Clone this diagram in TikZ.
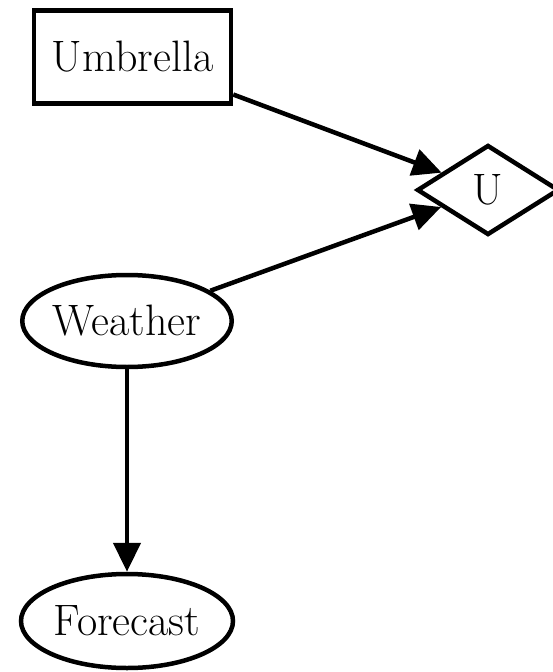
\documentclass[tikz,border=0pt]{standalone}
\usepackage{fontspec}
\usetikzlibrary{shapes.geometric,arrows.meta}
\tikzset{
  base/.style={draw=black, line width=4.5pt, inner sep=0pt, font=\fontsize{44}{52}\selectfont},
  boxnode/.style={base, rectangle, minimum width=197pt, minimum height=93pt},
  ovalnode/.style={base, ellipse},
  diamondnode/.style={base, diamond, aspect=1.5},
  edge/.style={line width=4.5pt, -{Triangle[length=29pt,width=27pt]}}
}
\begin{document}
\begin{tikzpicture}[x=1pt,y=-1pt]
\useasboundingbox (0,0) rectangle (552,672);
\node[boxnode] (um) at (132.5,57) {Umbrella};
\node[diamondnode, minimum width=142pt, minimum height=90pt] (u) at (488,190) {U};
\node[ovalnode, minimum width=208pt, minimum height=92pt] (we) at (127,321) {Weather};
\node[ovalnode, minimum width=212pt, minimum height=94pt] (fo) at (127,621) {Forecast};
\draw[edge] (um) -- (u);
\draw[edge] (we) -- (u);
\draw[edge] (we) -- (fo);
\end{tikzpicture}
\end{document}
